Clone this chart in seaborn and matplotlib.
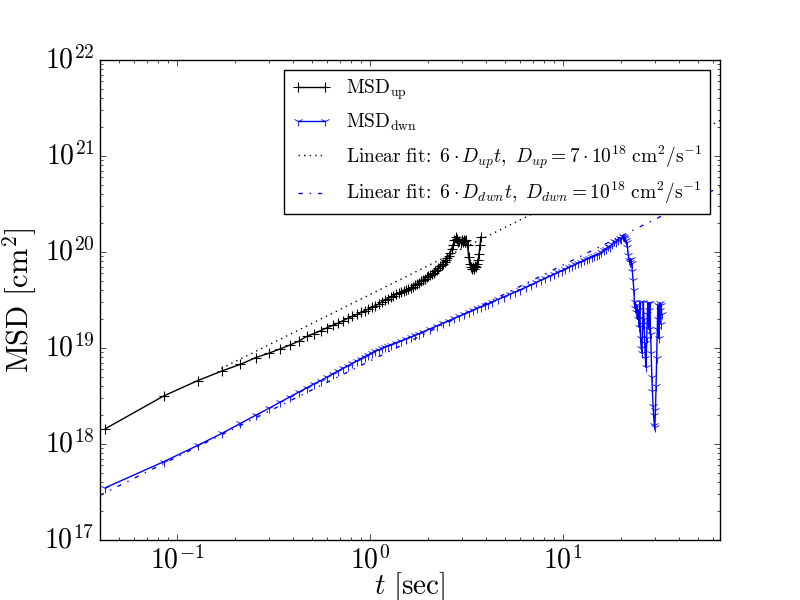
import numpy as np
import matplotlib
matplotlib.use('Agg')
import matplotlib.pyplot as plt
import matplotlib.ticker as mticker
import seaborn as sns

# ── STYLE ──────────────────────────────────────────────────────
plt.style.use('classic')
plt.rcParams['mathtext.fontset'] = 'cm'
plt.rcParams['font.family'] = ['DejaVu Serif']

# ── DATA ───────────────────────────────────────────────────────
dt = 0.0427  # frame step [sec]

frames_up = np.arange(1, 89)
log_msd_up = [
    18.16, 18.50, 18.66, 18.76, 18.83, 18.90, 18.945, 18.99, 19.03, 19.07,
    19.12, 19.15, 19.18, 19.21, 19.235, 19.26, 19.285, 19.31, 19.33, 19.35,
    19.37, 19.39, 19.405, 19.425, 19.44, 19.46, 19.48, 19.50, 19.515, 19.53,
    19.545, 19.56, 19.57, 19.585, 19.595, 19.605, 19.615, 19.625, 19.64, 19.655,
    19.67, 19.68, 19.695, 19.71, 19.72, 19.735, 19.75, 19.76, 19.77, 19.785,
    19.80, 19.815, 19.83, 19.85, 19.865, 19.88, 19.90, 19.915, 19.935, 19.96,
    19.99, 20.03, 20.07, 20.12, 20.16, 20.14, 20.10, 20.11, 20.09, 20.12,
    20.10, 20.13, 20.11, 20.12, 20.07, 19.95, 19.87, 19.84, 19.82, 19.84,
    19.82, 19.85, 19.84, 19.87, 19.92, 19.98, 20.07, 20.16,
]

frames_dwn = np.r_[1:31, 32:43:2, 44:101:4, 108:141:8, 150:481:10, 485:761:5]
log_msd_dwn = [
    # frames 1-30
    17.545, 17.815, 17.985, 18.11, 18.215, 18.30, 18.37, 18.435, 18.49, 18.54,
    18.585, 18.625, 18.66, 18.695, 18.73, 18.76, 18.79, 18.815, 18.84, 18.865,
    18.89, 18.91, 18.93, 18.95, 18.97, 18.98, 18.995, 19.01, 19.02, 19.035,
    # frames 32-42
    19.055, 19.075, 19.095, 19.115, 19.133, 19.15,
    # frames 44-100
    19.168, 19.20, 19.23, 19.26, 19.285, 19.31, 19.333, 19.354, 19.375, 19.394,
    19.412, 19.43, 19.447, 19.463, 19.478,
    # frames 108-140
    19.507, 19.534, 19.559, 19.583, 19.605,
    # frames 150-480
    19.633, 19.659, 19.683, 19.707, 19.729, 19.75, 19.77, 19.789, 19.807, 19.824,
    19.841, 19.857, 19.872, 19.886, 19.90, 19.913, 19.925, 19.938, 19.95, 19.961,
    19.972, 19.983, 20.00, 20.02, 20.03, 20.06, 20.05, 20.08, 20.11, 20.10,
    20.13, 20.15, 20.14, 20.17,
    # frames 485-760
    20.16, 20.15, 20.12, 20.10, 20.05, 19.97, 19.92, 19.90, 19.93, 19.89,
    19.80, 19.71, 19.60, 19.42, 19.48, 19.38, 19.45, 19.30, 19.40, 19.22,
    19.48, 19.10, 19.00, 18.95, 19.25, 19.48, 19.30, 19.05, 18.90, 18.80,
    19.10, 19.35, 19.47, 19.20, 19.40, 19.47, 19.15, 18.95, 18.70, 18.55,
    18.40, 18.30, 18.20, 18.18, 18.35, 18.60, 18.90, 19.20, 19.45, 19.30,
    19.10, 19.40, 19.47, 19.25, 19.45, 19.35,
]

# linear fits MSD = 6 D t (prefactors as drawn)
D_up_fit = 6.0e18
D_dwn_fit = 1.22e18
t_fit_up = np.array([0.17, 65.0])
t_fit_dwn = np.array([0.04, 65.0])

label_up = r'$\mathrm{MSD}_{\mathrm{up}}$'
label_dwn = r'$\mathrm{MSD}_{\mathrm{dwn}}$'
label_fit_up = (r'$\mathrm{Linear\ fit\!:}\ 6\cdot D_{up}t,\ D_{up}=7\cdot10^{18}'
                r'\ \mathrm{cm}^2/\mathrm{s}^{-1}$')
label_fit_dwn = (r'$\mathrm{Linear\ fit\!:}\ 6\cdot D_{dwn}t,\ D_{dwn}=10^{18}'
                 r'\ \mathrm{cm}^2/\mathrm{s}^{-1}$')

t_up = dt * frames_up
t_dwn = dt * frames_dwn
msd_up = np.power(10.0, log_msd_up)
msd_dwn = np.power(10.0, log_msd_dwn)

# ── PLOT ───────────────────────────────────────────────────────
fig = plt.figure(figsize=(8, 6))
ax = fig.add_subplot(111)

sns.lineplot(x=t_up, y=msd_up, ax=ax, color='k', lw=1, marker='+',
             markersize=6.5, markeredgewidth=0.8, markeredgecolor='k',
             sort=False, errorbar=None, label=label_up)
sns.lineplot(x=t_dwn, y=msd_dwn, ax=ax, color='b', lw=1, marker='1',
             markersize=6.5, markeredgewidth=0.6, markeredgecolor='b',
             sort=False, errorbar=None, label=label_dwn)
sns.lineplot(x=t_fit_up, y=6 * D_up_fit * t_fit_up, ax=ax, color='k',
             lw=1, linestyle=':', sort=False, errorbar=None, label=label_fit_up)
sns.lineplot(x=t_fit_dwn, y=6 * D_dwn_fit * t_fit_dwn, ax=ax, color='b',
             lw=1, linestyle='-.', sort=False, errorbar=None, label=label_fit_dwn)

ax.set_xscale('log')
ax.set_yscale('log')
ax.set_xlim(0.04, 65)
ax.set_ylim(1e17, 1e22)

pow_fmt = mticker.FuncFormatter(lambda v, pos: r'$10^{%d}$' % round(np.log10(v)))
ax.xaxis.set_major_formatter(pow_fmt)
ax.yaxis.set_major_formatter(pow_fmt)
ax.xaxis.set_minor_formatter(mticker.NullFormatter())
ax.yaxis.set_minor_formatter(mticker.NullFormatter())

ax.set_xlabel(r'$t\ [\mathrm{sec}]$', fontsize=21, labelpad=-3)
ax.set_ylabel(r'$\mathrm{MSD}\ [\mathrm{cm}^2]$', fontsize=22, labelpad=4)
ax.tick_params(axis='both', which='major', labelsize=20)

ax.legend(loc='upper right', fontsize=14, numpoints=2, frameon=True)

fig.savefig('out.png', dpi=100)
print("Saved: out.png")
